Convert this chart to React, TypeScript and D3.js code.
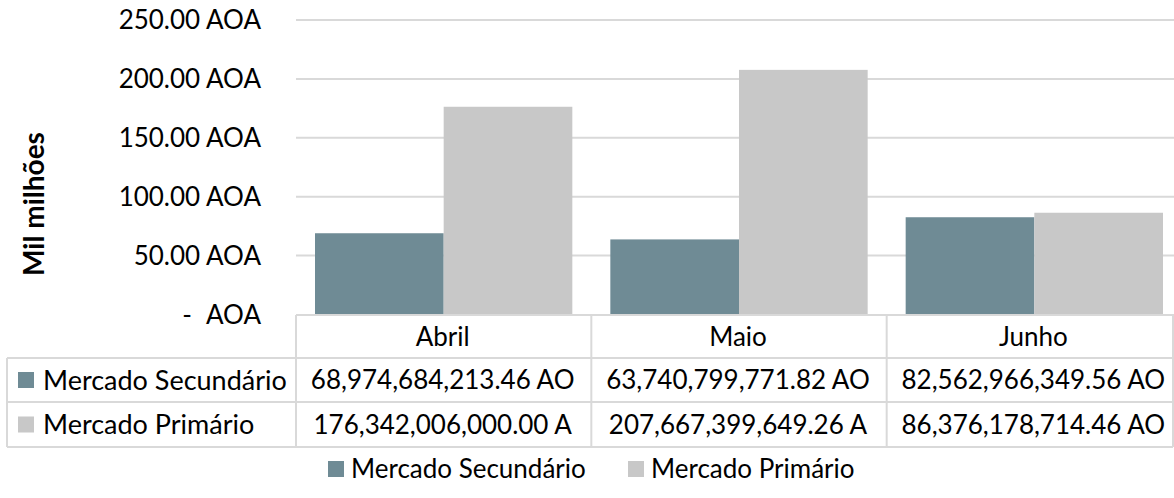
import React from 'react';
import * as d3 from 'd3';

const categories = ['Abril', 'Maio', 'Junho'];
const seriesNames = ['Mercado Secundário', 'Mercado Primário'];
// values in "Mil milhões" (thousand millions) AOA
const secundario = [68.97468421346, 63.74079977182, 82.56296634956];
const primario = [176.342006, 207.66739964926, 86.37617871446];
const tableSecundario = ['68,974,684,213.46 AO', '63,740,799,771.82 AO', '82,562,966,349.56 AO'];
const tablePrimario = ['176,342,006,000.00 A', '207,667,399,649.26 A', '86,376,178,714.46 AO'];
const yTicks = [0, 50, 100, 150, 200, 250];
const colors = ['#6F8B95', '#C8C8C8'];

const W = 1174;
const H = 498;
const FONT = 'Lato, "Open Sans", sans-serif';
const FS = 26;
const GRID = '#D9D9D9';

export default function App() {
  const plotLeft = 296;
  const plotRight = 1182;
  const y = d3.scaleLinear().domain([0, 250]).range([314.5, 20]);
  const x0 = d3.scaleBand<string>().domain(categories).range([plotLeft, plotRight]);
  const bw = x0.bandwidth();
  const x1 = d3.scaleBand<string>().domain(seriesNames).range([19, bw - 19]);
  const series = [secundario, primario];
  const tableRows = [tableSecundario, tablePrimario];

  const rowTop = 315;
  const rowBounds = [315, 358, 402, 447];
  const tableLeft = 7;
  const tableRight = 1173;

  const fmt = (v: number) => d3.format('.2f')(v) + ' AOA';

  return (
    <svg width={W} height={H} style={{ position: 'absolute', left: 0, top: 0, background: '#fff' }}
      fontFamily={FONT}>
      <rect x={0} y={0} width={W} height={H} fill="#fff" />
      {/* gridlines */}
      {yTicks.filter(t => t > 0).map(t => (
        <line key={t} x1={plotLeft} x2={plotRight} y1={y(t)} y2={y(t)} stroke={GRID} strokeWidth={2} />
      ))}
      {/* y tick labels */}
      {yTicks.map(t => (
        t === 0 ? (
          <g key={t}>
            <text x={187} y={y(t)} dy="0.36em" fontSize={FS} textAnchor="middle" fill="#000">-</text>
            <text x={261} y={y(t)} dy="0.36em" fontSize={FS} textAnchor="end" fill="#000">AOA</text>
          </g>
        ) : (
          <text key={t} x={261} y={y(t)} dy="0.36em" fontSize={FS} textAnchor="end" fill="#000">{fmt(t)}</text>
        )
      ))}
      {/* y axis title */}
      <text transform={`translate(44,204) rotate(-90)`} fontSize={28} fontWeight="bold" textAnchor="middle" fill="#000">Mil milhões</text>
      {/* bars */}
      {categories.map((c, i) => (
        <g key={c} transform={`translate(${x0(c)},0)`}>
          {seriesNames.map((s, j) => (
            <rect key={s} x={x1(s)} y={y(series[j][i])} width={x1.bandwidth()} height={y(0) - y(series[j][i])} fill={colors[j]} />
          ))}
        </g>
      ))}
      {/* data table lines */}
      <line x1={plotLeft} x2={plotRight} y1={rowTop} y2={rowTop} stroke={GRID} strokeWidth={2} />
      {rowBounds.slice(1).map(yy => (
        <line key={yy} x1={tableLeft} x2={tableRight} y1={yy} y2={yy} stroke={GRID} strokeWidth={2} />
      ))}
      <line x1={tableLeft} x2={tableLeft} y1={rowBounds[1]} y2={rowBounds[3]} stroke={GRID} strokeWidth={2} />
      {categories.map(c => (
        <line key={c} x1={x0(c)} x2={x0(c)} y1={rowTop} y2={rowBounds[3]} stroke={GRID} strokeWidth={2} />
      ))}
      <line x1={tableRight} x2={tableRight} y1={rowTop} y2={rowBounds[3]} stroke={GRID} strokeWidth={2} />
      {/* category labels */}
      {categories.map(c => (
        <text key={c} x={(x0(c) as number) + bw / 2 - 1} y={(rowBounds[0] + rowBounds[1]) / 2} dy="0.36em" fontSize={FS} textAnchor="middle" fill="#000">{c}</text>
      ))}
      {/* row headers and values */}
      {seriesNames.map((s, j) => {
        const cy = (rowBounds[j + 1] + rowBounds[j + 2]) / 2;
        return (
          <g key={s}>
            <rect x={18} y={cy - 8} width={16} height={16} fill={colors[j]} />
            <text x={43} y={cy} dy="0.36em" fontSize={27} fill="#000">{s}</text>
            {categories.map((c, i) => (
              <text key={c} x={(x0(c) as number) + bw / 2 - 1} y={cy} dy="0.36em" fontSize={FS} textAnchor="middle" fill="#000">{tableRows[j][i]}</text>
            ))}
          </g>
        );
      })}
      {/* legend */}
      {seriesNames.map((s, j) => {
        const lx = [328, 628][j];
        const cy = 469;
        return (
          <g key={s}>
            <rect x={lx} y={cy - 8} width={16} height={16} fill={colors[j]} />
            <text x={lx + 23} y={cy} dy="0.36em" fontSize={FS} fill="#000">{s}</text>
          </g>
        );
      })}
    </svg>
  );
}
